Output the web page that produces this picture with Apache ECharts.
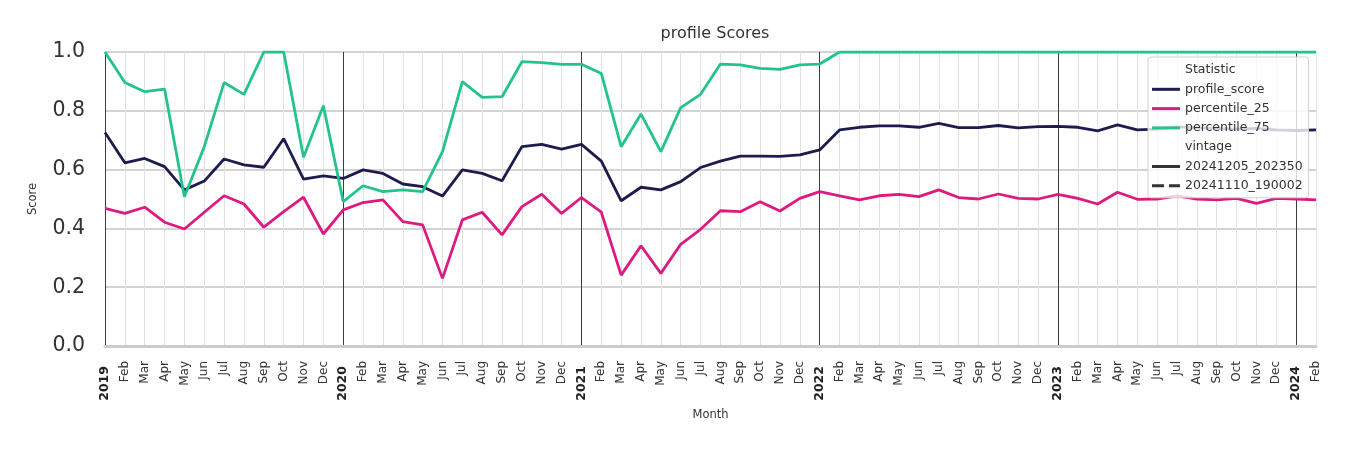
<!DOCTYPE html>
<html>
<head>
<meta charset="utf-8">
<script src="https://cdn.jsdelivr.net/npm/echarts@6/dist/echarts.min.js"></script>
<style>
  html, body { margin: 0; padding: 0; background: #fff; }
  #chart { width: 1350px; height: 450px; }
</style>
</head>
<body>
<div id="chart"></div>
<script>
// ---- data ----
const years = [2019, 2020, 2021, 2022, 2023, 2024];
const monthAbbr = ['Jan','Feb','Mar','Apr','May','Jun','Jul','Aug','Sep','Oct','Nov','Dec'];
const lastMonthCount = 2; // 2024 runs Jan..Feb

const profileScore = [
  0.726, 0.623, 0.638, 0.610, 0.531, 0.561, 0.636, 0.616, 0.608, 0.705, 0.568, 0.579,
  0.570, 0.599, 0.587, 0.551, 0.542, 0.510, 0.599, 0.587, 0.562, 0.678, 0.686, 0.670,
  0.686, 0.629, 0.494, 0.540, 0.531, 0.559, 0.607, 0.629, 0.646, 0.646, 0.645, 0.650,
  0.667, 0.735, 0.744, 0.749, 0.749, 0.744, 0.757, 0.743, 0.743, 0.750, 0.742, 0.746,
  0.747, 0.744, 0.732, 0.752, 0.735, 0.738, 0.745, 0.742, 0.740, 0.738, 0.740, 0.735,
  0.733, 0.735
];
const percentile25 = [
  0.468, 0.451, 0.472, 0.421, 0.398, 0.455, 0.511, 0.483, 0.404, 0.457, 0.506, 0.381,
  0.463, 0.488, 0.497, 0.423, 0.412, 0.230, 0.429, 0.455, 0.378, 0.474, 0.516, 0.451,
  0.505, 0.455, 0.241, 0.341, 0.247, 0.346, 0.397, 0.460, 0.457, 0.491, 0.459, 0.502,
  0.525, 0.511, 0.497, 0.511, 0.516, 0.508, 0.531, 0.505, 0.500, 0.517, 0.502, 0.500,
  0.516, 0.502, 0.483, 0.523, 0.499, 0.500, 0.511, 0.500, 0.497, 0.502, 0.485, 0.502,
  0.500, 0.497
];
const percentile75 = [
  1.000, 0.896, 0.865, 0.874, 0.508, 0.678, 0.896, 0.856, 1.000, 1.000, 0.642, 0.817,
  0.491, 0.545, 0.525, 0.531, 0.525, 0.661, 0.899, 0.846, 0.848, 0.967, 0.964, 0.958,
  0.958, 0.927, 0.678, 0.789, 0.661, 0.811, 0.856, 0.959, 0.956, 0.944, 0.941, 0.956,
  0.959, 1.000, 1.000, 1.000, 1.000, 1.000, 1.000, 1.000, 1.000, 1.000, 1.000, 1.000,
  1.000, 1.000, 1.000, 1.000, 1.000, 1.000, 1.000, 1.000, 1.000, 1.000, 1.000, 1.000,
  1.000, 1.000
];
const yTicks = [0, 0.2, 0.4, 0.6, 0.8, 1.0];
const vintages = ['20241205_202350', '20241110_190002'];

// category keys "YYYY-MM"
const months = [];
years.forEach((y, yi) => {
  const n = (yi === years.length - 1) ? lastMonthCount : 12;
  for (let m = 0; m < n; m++) months.push(y + '-' + String(m + 1).padStart(2, '0'));
});

const colors = { score: '#1c1c4e', p25: '#dc1a80', p75: '#22c38e', dark: '#333333' };
const font = 'DejaVu Sans';
const solidIcon = 'path://M0,0 H28 V3 H0 Z';
const dashIcon = 'path://M0,0 H12 V3 H0 Z M17,0 H28 V3 H17 Z';

const splitColors = ['#3c3c3c'].concat(new Array(11).fill('#e2e2e2'));

const chart = echarts.init(document.getElementById('chart'), null, { renderer: 'canvas' });
chart.setOption({
  animation: false,
  backgroundColor: '#ffffff',
  textStyle: { fontFamily: font, color: '#333' },
  title: {
    text: 'profile Scores',
    left: 710, top: 21, textAlign: 'center',
    textStyle: { fontFamily: font, fontSize: 16, fontWeight: 'normal', color: '#333' }
  },
  grid: { left: 105, right: 34, top: 52, bottom: 104, containLabel: false },
  legend: {
    orient: 'vertical',
    left: 1148, top: 57,
    padding: [6, 6, 5, 4],
    itemWidth: 28, itemHeight: 14, itemGap: 5.3,
    symbolKeepAspect: true,
    backgroundColor: 'rgba(255,255,255,0.8)',
    borderColor: '#d0d0d0', borderWidth: 1, borderRadius: 3,
    textStyle: { fontFamily: font, fontSize: 12.5, color: '#333', lineHeight: 14 },
    data: [
      { name: 'Statistic', icon: 'none' },
      { name: 'profile_score', icon: solidIcon },
      { name: 'percentile_25', icon: solidIcon },
      { name: 'percentile_75', icon: solidIcon },
      { name: 'vintage', icon: 'none' },
      { name: vintages[0], icon: solidIcon },
      { name: vintages[1], icon: dashIcon }
    ]
  },
  xAxis: {
    type: 'category',
    data: months,
    boundaryGap: false,
    name: 'Month', nameLocation: 'middle', nameGap: 63,
    nameTextStyle: { fontFamily: font, fontSize: 11.5, color: '#333' },
    axisLine: { show: true, lineStyle: { color: '#cccccc', width: 3 } },
    axisTick: { show: false },
    axisLabel: {
      interval: 0, rotate: 90, margin: 15,
      formatter: function (v) {
        const p = v.split('-');
        const mi = parseInt(p[1], 10) - 1;
        return mi === 0 ? '{y|' + p[0] + '}' : '{m|' + monthAbbr[mi] + '}';
      },
      rich: {
        y: { fontFamily: font, fontSize: 12.5, fontWeight: 'bold', color: '#222', padding: [0, 5, 0, 0] },
        m: { fontFamily: font, fontSize: 12, color: '#333' }
      }
    },
    splitLine: { show: true, interval: 0, lineStyle: { color: splitColors, width: 1 } }
  },
  yAxis: {
    type: 'value',
    min: 0, max: 1, interval: 0.2,
    name: 'Score', nameLocation: 'middle', nameGap: 66,
    nameTextStyle: { fontFamily: font, fontSize: 11.5, color: '#333' },
    axisLine: { show: false },
    axisTick: { show: false },
    axisLabel: {
      margin: 20, fontFamily: font, fontSize: 20.5, color: '#333',
      formatter: function (v) { return yTicks.some(t => Math.abs(t - v) < 1e-9) ? v.toFixed(1) : ''; }
    },
    splitLine: { show: true, lineStyle: { color: '#c4c4c4', width: 1.5 } }
  },
  series: [
    { name: 'Statistic', type: 'line', data: [], symbol: 'none', lineStyle: { width: 0, opacity: 0 } },
    { name: 'profile_score', type: 'line', data: profileScore, symbol: 'none', showSymbol: false,
      lineStyle: { color: colors.score, width: 2.8 }, itemStyle: { color: colors.score } },
    { name: 'percentile_25', type: 'line', data: percentile25, symbol: 'none', showSymbol: false,
      lineStyle: { color: colors.p25, width: 2.8 }, itemStyle: { color: colors.p25 } },
    { name: 'percentile_75', type: 'line', data: percentile75, symbol: 'none', showSymbol: false,
      lineStyle: { color: colors.p75, width: 2.8 }, itemStyle: { color: colors.p75 } },
    { name: 'vintage', type: 'line', data: [], symbol: 'none', lineStyle: { width: 0, opacity: 0 } },
    { name: vintages[0], type: 'line', data: [], symbol: 'none',
      lineStyle: { color: colors.dark, width: 2.8, type: 'solid' }, itemStyle: { color: colors.dark } },
    { name: vintages[1], type: 'line', data: [], symbol: 'none',
      lineStyle: { color: colors.dark, width: 2.8, type: [6, 3] }, itemStyle: { color: colors.dark } }
  ]
});
</script>
</body>
</html>
